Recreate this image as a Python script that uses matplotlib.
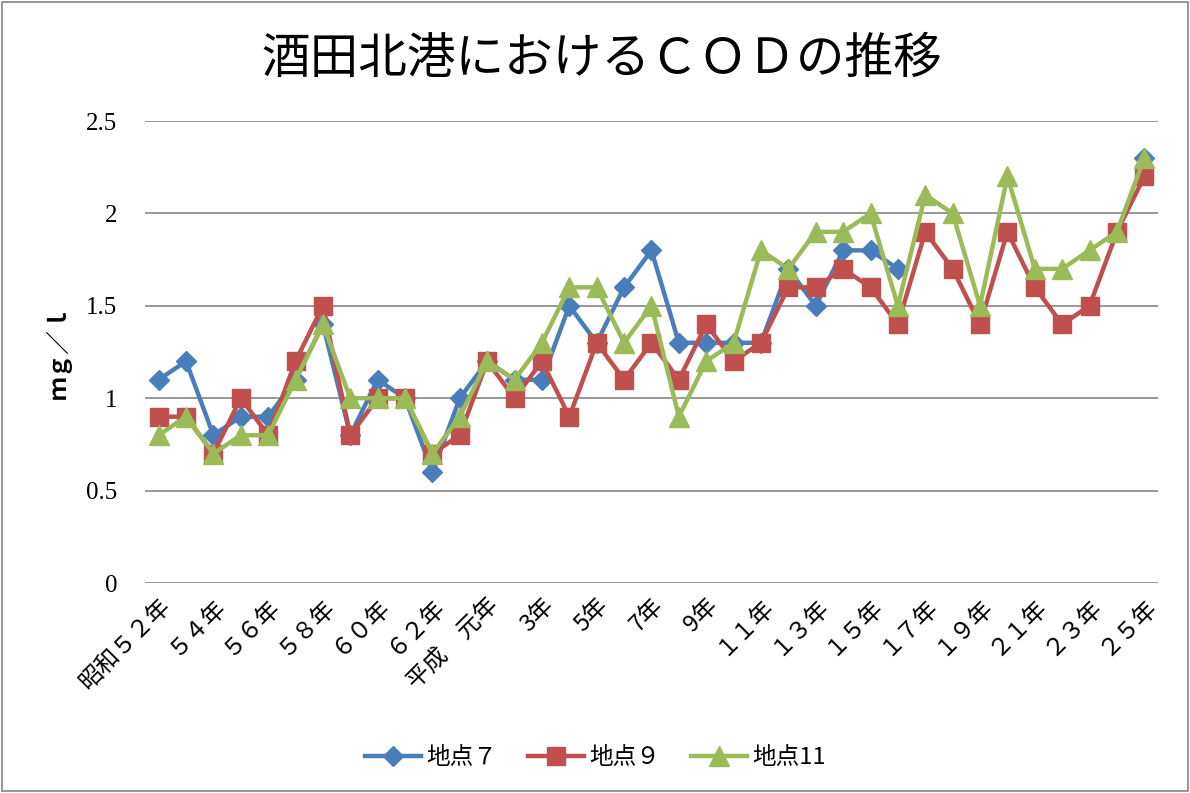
import numpy as np
import matplotlib
matplotlib.use("Agg")
import matplotlib.pyplot as plt
from matplotlib.patches import Rectangle

plt.rcParams['font.family'] = ['Liberation Serif', 'Noto Sans CJK JP', 'DejaVu Sans']
cjk = ['Noto Sans CJK JP', 'DejaVu Sans']

# 昭和52年(1977) ～ 平成25年(2013)
years = ['昭和５２年', '５３年', '５４年', '５５年', '５６年', '５７年', '５８年', '５９年',
         '６０年', '６１年', '６２年', '６３年', '平成　元年', '2年', '3年', '4年', '5年',
         '6年', '7年', '8年', '9年', '１０年', '１１年', '１２年', '１３年', '１４年',
         '１５年', '１６年', '１７年', '１８年', '１９年', '２０年', '２１年', '２２年',
         '２３年', '２４年', '２５年']

nan = np.nan
point7 = [1.1, 1.2, 0.8, 0.9, 0.9, 1.1, 1.4, 0.8, 1.1, 1.0, 0.6, 1.0, 1.2, 1.1, 1.1,
          1.5, 1.3, 1.6, 1.8, 1.3, 1.3, 1.3, 1.3, 1.7, 1.5, 1.8, 1.8, 1.7,
          nan, nan, nan, nan, nan, nan, nan, nan, 2.3]
point9 = [0.9, 0.9, 0.7, 1.0, 0.8, 1.2, 1.5, 0.8, 1.0, 1.0, 0.7, 0.8, 1.2, 1.0, 1.2,
          0.9, 1.3, 1.1, 1.3, 1.1, 1.4, 1.2, 1.3, 1.6, 1.6, 1.7, 1.6, 1.4,
          1.9, 1.7, 1.4, 1.9, 1.6, 1.4, 1.5, 1.9, 2.2]
point11 = [0.8, 0.9, 0.7, 0.8, 0.8, 1.1, 1.4, 1.0, 1.0, 1.0, 0.7, 0.9, 1.2, 1.1, 1.3,
           1.6, 1.6, 1.3, 1.5, 0.9, 1.2, 1.3, 1.8, 1.7, 1.9, 1.9, 2.0, 1.5,
           2.1, 2.0, 1.5, 2.2, 1.7, 1.7, 1.8, 1.9, 2.3]

fig = plt.figure(figsize=(11.9, 7.93), dpi=100)
ax = fig.add_axes([0.1218, 0.2648, 0.8513, 0.5826])

x = np.arange(len(years))
ax.plot(x, point7, color='#4A7EBB', lw=3.2, marker='D', ms=10, label='地点７')
ax.plot(x, point9, color='#C0504D', lw=3.2, marker='s', ms=13, label='地点９')
ax.plot(x, point11, color='#9BBB59', lw=3.2, marker='^', ms=14, label='地点11')

ax.set_xlim(-0.5, len(years) - 0.5)
ax.set_ylim(0, 2.5)
ax.set_yticks(np.arange(0, 2.51, 0.5))
ax.set_yticklabels(['0', '0.5', '1', '1.5', '2', '2.5'])
ax.yaxis.grid(True, color='#868686', lw=1.2)
ax.set_axisbelow(True)
for s in ax.spines.values():
    s.set_visible(False)
ax.tick_params(axis='y', length=0, pad=20, labelsize=18)

ax.set_xticks(x[::2])
ax.set_xticklabels(years[::2], rotation=45, ha='right', rotation_mode='anchor',
                   fontsize=17, family=cjk)
ax.tick_params(axis='x', length=0, pad=8)

ax.set_ylabel('ｍｇ／ｌ', fontsize=17, fontweight='bold', labelpad=10, family=cjk)

fig.text(0.506, 0.925, '酒田北港におけるＣＯＤの推移', ha='center', va='center',
         fontsize=35, family=cjk)

fig.legend(loc='center', bbox_to_anchor=(0.5, 0.045), ncol=3, frameon=False,
           prop={'family': cjk, 'size': 17},
           handlelength=2.4, handletextpad=0.2, columnspacing=1.3)

fig.patches.append(Rectangle((0.002, 0.003), 0.996, 0.994, transform=fig.transFigure,
                             fill=False, edgecolor='#868686', lw=1.2))

fig.savefig('out.png', dpi=100)
